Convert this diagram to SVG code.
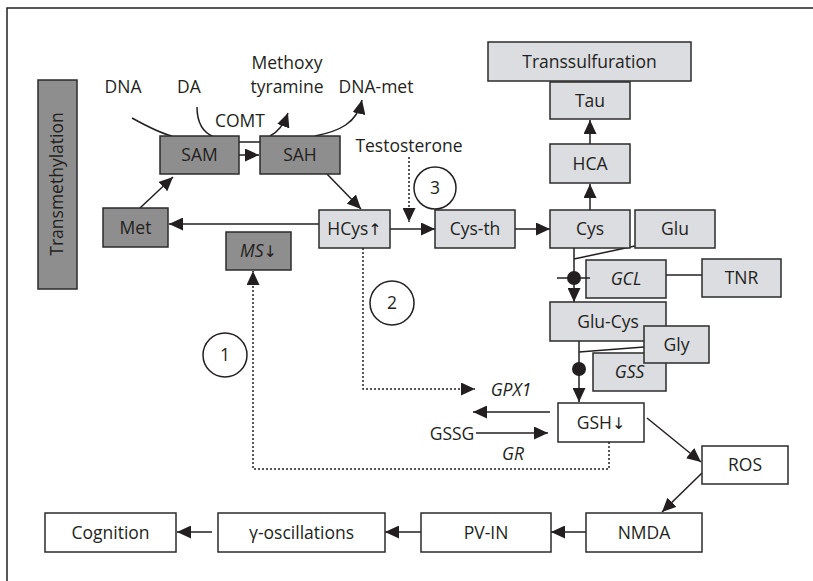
<svg xmlns="http://www.w3.org/2000/svg" width="813" height="581" viewBox="0 0 813 581">
<defs>
<style>
text{font-family:"Open Sans","Liberation Sans",sans-serif;font-size:17.5px;fill:#231f20;text-anchor:middle}
.it{font-style:italic}
.arw{font-family:"DejaVu Sans",sans-serif;font-style:normal;font-size:16px}
.box rect{stroke:#2b2b2b;stroke-width:1.5}
.dk rect{fill:#8e8e8e}
.lt rect{fill:#dcdde0}
.wh rect{fill:#ffffff}
.ln{fill:none;stroke:#231f20;stroke-width:1.5}
.ds{fill:none;stroke:#231f20;stroke-width:1.5;stroke-dasharray:2,2}
.ar{marker-end:url(#ah)}
</style>
<marker id="ah" markerUnits="userSpaceOnUse" markerWidth="14" markerHeight="13" refX="14" refY="6.5" orient="auto"><path d="M0,0 L14,6.5 L0,13 z" fill="#231f20"/></marker>
</defs>
<rect width="813" height="581" fill="#ffffff"/>
<g id="frame"><path d="M7,581 V8 H813" class="ln" stroke-width="2"/></g>

<g id="connectors">
<path class="ln" d="M132,118 C150,128 160,133 172,136"/>
<path class="ln ar" d="M315,136 C340,131 357,123 362,100"/>
<path class="ln" d="M197,107 C197,124 204,133 214,137"/>
<path class="ln" d="M239,142 L261,142"/>
<path class="ln ar" d="M270,136 C278,132 284,124 288,113"/>
<path class="ln ar" d="M239,155 L259,155"/>
<path class="ln ar" d="M140,208 L173,177"/>
<path class="ln ar" d="M327,174 L361,209"/>
<path class="ln ar" d="M319,224 L169,224"/>
<path class="ds ar" d="M409,157 L409,222"/>
<path class="ln ar" d="M390,229 L435,229"/>
<path class="ln ar" d="M515,229 L550,229"/>
<path class="ln ar" d="M590,210 L590,184"/>
<path class="ln ar" d="M590,144 L590,120"/>
<path class="ln ar" d="M574,248 L574,302"/>
<path class="ln" d="M635,246 L574,259"/>
<path class="ln" d="M666,275 L702,275"/>
<path class="ln ar" d="M579,341 L579,402"/>
<path class="ln" d="M644,347 L579,352"/>
<path class="ln ar" d="M550,412 L473,412"/>
<path class="ln ar" d="M476,433 L548,433"/>
<path class="ln ar" d="M647,418 L701,462"/>
<path class="ln ar" d="M702,473 L662,512"/>
<path class="ln ar" d="M586,532 L551,532"/>
<path class="ln ar" d="M421,532 L385,532"/>
<path class="ln ar" d="M212,532 L177,532"/>
<path class="ds ar" d="M363,248 L363,389 L475,389"/>
<path class="ds ar" d="M609,442 L609,469 L253,469 L253,271"/>
</g>

<g id="transmethylation" class="box dk"><rect x="38" y="80" width="39" height="209"/><text transform="translate(63,184) rotate(-90)">Transmethylation</text></g>
<g id="dna"><text x="123" y="93">DNA</text></g>
<g id="da"><text x="189" y="93">DA</text></g>
<g id="methoxytyramine"><text x="287" y="69">Methoxy</text><text x="287" y="93">tyramine</text></g>
<g id="dnamet"><text x="376" y="93">DNA-met</text></g>
<g id="comt"><text x="240" y="127">COMT</text></g>
<g id="testosterone"><text x="409" y="152">Testosterone</text></g>

<g id="sam" class="box dk"><rect x="160" y="136" width="79" height="38"/><text x="199.5" y="161">SAM</text></g>
<g id="sah" class="box dk"><rect x="260" y="136" width="80" height="38"/><text x="300" y="161">SAH</text></g>
<g id="met" class="box dk"><rect x="103" y="208" width="65" height="39"/><text x="135.5" y="233.5">Met</text></g>
<g id="ms" class="box dk"><rect x="226" y="232" width="65" height="38"/><text class="it" x="258.5" y="257">MS<tspan class="arw">↓</tspan></text></g>
<g id="hcys" class="box lt"><rect x="319" y="210" width="71" height="38"/><text x="354.5" y="235">HCys<tspan class="arw">↑</tspan></text></g>
<g id="cysth" class="box lt"><rect x="435" y="210" width="80" height="38"/><text x="475" y="235">Cys-th</text></g>
<g id="cys" class="box lt"><rect x="550" y="210" width="80" height="38"/><text x="590" y="235">Cys</text></g>
<g id="glu" class="box lt"><rect x="635" y="210" width="80" height="38"/><text x="675" y="235">Glu</text></g>
<g id="hca" class="box lt"><rect x="550" y="144" width="80" height="39"/><text x="590" y="169.5">HCA</text></g>
<g id="tau" class="box lt"><rect x="550" y="82" width="80" height="37"/><text x="590" y="106.5">Tau</text></g>
<g id="transsulfuration" class="box lt"><rect x="488" y="42" width="203" height="39"/><text x="589.5" y="67.5">Transsulfuration</text></g>
<g id="gcl" class="box lt"><rect x="586" y="260" width="80" height="38"/><text class="it" x="626" y="285">GCL</text></g>
<g id="tnr" class="box lt"><rect x="702" y="259" width="79" height="38"/><text x="741.5" y="284">TNR</text></g>
<g id="glucys" class="box lt"><rect x="550" y="302" width="116" height="39"/><text x="608" y="327.5">Glu-Cys</text></g>
<g id="gss" class="box lt"><rect x="593" y="353" width="73" height="38"/><text class="it" x="629.5" y="378">GSS</text></g>
<g id="gly" class="box lt"><rect x="644" y="326" width="65" height="37"/><text x="676.5" y="350.5">Gly</text></g>
<g id="gcl-junction"><path class="ln" d="M557,278 L590,278"/><circle cx="574" cy="278" r="7" fill="#231f20"/></g>
<g id="gss-junction"><circle cx="579" cy="369" r="7" fill="#231f20"/></g>
<g id="gsh" class="box wh"><rect x="558" y="403" width="86" height="39"/><text x="601" y="428.5">GSH<tspan class="arw">↓</tspan></text></g>
<g id="gpx1"><text class="it" x="511" y="396">GPX1</text></g>
<g id="gssg"><text x="452" y="440">GSSG</text></g>
<g id="gr"><text class="it" x="513" y="460">GR</text></g>
<g id="ros" class="box wh"><rect x="702" y="446" width="86" height="38"/><text x="745" y="471">ROS</text></g>
<g id="nmda" class="box wh"><rect x="586" y="513" width="116" height="39"/><text x="644" y="538.5">NMDA</text></g>
<g id="pvin" class="box wh"><rect x="421" y="513" width="130" height="39"/><text x="486" y="538.5">PV-IN</text></g>
<g id="gamma" class="box wh"><rect x="218" y="513" width="167" height="39"/><text x="301.5" y="538.5">γ-oscillations</text></g>
<g id="cognition" class="box wh"><rect x="45" y="513" width="131" height="39"/><text x="110.5" y="538.5">Cognition</text></g>

<g id="c1"><circle cx="225" cy="355" r="22" fill="#fff" stroke="#231f20" stroke-width="1.5"/><text x="225" y="361">1</text></g>
<g id="c2"><circle cx="392" cy="303" r="22" fill="#fff" stroke="#231f20" stroke-width="1.5"/><text x="392" y="309">2</text></g>
<g id="c3"><circle cx="435" cy="188" r="21" fill="#fff" stroke="#231f20" stroke-width="1.5"/><text x="435" y="194">3</text></g>
</svg>
